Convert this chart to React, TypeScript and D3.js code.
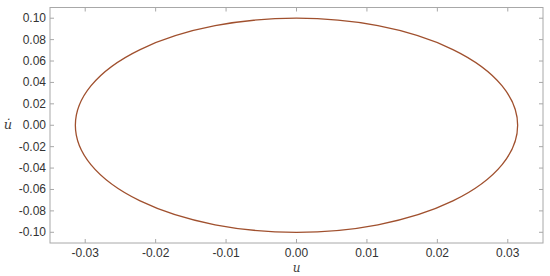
import { useEffect, useRef } from "react";
import * as d3 from "d3";

// phase portrait: u vs u-dot (closed orbit)
const uAmplitude = 0.0314;
const vAmplitude = 0.1;
const uCenter = 0.0;
const vCenter = 0.0;

const xTicks = [-0.03, -0.02, -0.01, 0.0, 0.01, 0.02, 0.03];
const yTicks = [0.1, 0.08, 0.06, 0.04, 0.02, 0.0, -0.02, -0.04, -0.06, -0.08, -0.1];
const xDomain = [-0.035, 0.035];
const yDomain = [-0.11, 0.11];

export default function App() {
  const svgRef = useRef<SVGSVGElement>(null);
  const width = 550;
  const height = 276;
  const margin = { top: 7.5, right: 7, bottom: 33, left: 50 };

  useEffect(() => {
    const svg = d3.select(svgRef.current);
    svg.selectAll("*").remove();

    const x = d3.scaleLinear().domain(xDomain).range([margin.left, width - margin.right]);
    const y = d3.scaleLinear().domain(yDomain).range([height - margin.bottom, margin.top]);

    const g = svg.append("g");
    const axisColor = "#a8a8a8";
    const font = "'Liberation Sans', Arial, sans-serif";
    const fmt = (t: number) => d3.format(".2f")(t).replace("\u2212", "-");

    // box
    g.append("rect")
      .attr("x", x(xDomain[0]))
      .attr("y", y(yDomain[1]))
      .attr("width", x(xDomain[1]) - x(xDomain[0]))
      .attr("height", y(yDomain[0]) - y(yDomain[1]))
      .attr("fill", "none")
      .attr("stroke", axisColor)
      .attr("stroke-width", 1);

    const tl = 4;
    // x ticks (bottom + top, inward)
    xTicks.forEach((t) => {
      const px = x(t);
      g.append("line").attr("x1", px).attr("x2", px)
        .attr("y1", y(yDomain[0])).attr("y2", y(yDomain[0]) - tl)
        .attr("stroke", axisColor);
      g.append("line").attr("x1", px).attr("x2", px)
        .attr("y1", y(yDomain[1])).attr("y2", y(yDomain[1]) + tl)
        .attr("stroke", axisColor);
      g.append("text")
        .attr("x", px)
        .attr("y", y(yDomain[0]) + 14)
        .attr("text-anchor", "middle")
        .attr("font-family", font)
        .attr("font-size", 12)
        .attr("fill", "#333")
        .text(fmt(t));
    });

    yTicks.forEach((t) => {
      const py = y(t);
      g.append("line").attr("x1", x(xDomain[0])).attr("x2", x(xDomain[0]) + tl)
        .attr("y1", py).attr("y2", py)
        .attr("stroke", axisColor);
      g.append("line").attr("x1", x(xDomain[1])).attr("x2", x(xDomain[1]) - tl)
        .attr("y1", py).attr("y2", py)
        .attr("stroke", axisColor);
      g.append("text")
        .attr("x", x(xDomain[0]) - 4)
        .attr("y", py + 4)
        .attr("text-anchor", "end")
        .attr("font-family", font)
        .attr("font-size", 12)
        .attr("fill", "#333")
        .text(fmt(t));
    });

    // orbit
    g.append("ellipse")
      .attr("cx", x(uCenter))
      .attr("cy", y(vCenter))
      .attr("rx", x(uCenter + uAmplitude) - x(uCenter))
      .attr("ry", y(vCenter) - y(vCenter + vAmplitude))
      .attr("fill", "none")
      .attr("stroke", "#a0502e")
      .attr("stroke-width", 1.3);

    // axis labels
    g.append("text")
      .attr("x", x(0))
      .attr("y", height - 4)
      .attr("text-anchor", "middle")
      .attr("font-family", "'DejaVu Serif', 'Liberation Serif', serif")
      .attr("font-style", "italic")
      .attr("font-size", 12)
      .attr("fill", "#404040")
      .text("u");

    g.append("text")
      .attr("x", 8)
      .attr("y", y(0) + 4)
      .attr("text-anchor", "middle")
      .attr("font-family", "'DejaVu Serif', 'Liberation Serif', serif")
      .attr("font-style", "italic")
      .attr("font-size", 13)
      .attr("fill", "#404040")
      .text("u\u0307");
  }, []);

  return (
    <svg
      ref={svgRef}
      width={width}
      height={height}
      style={{ position: "absolute", left: 0, top: 0, background: "#fff" }}
    />
  );
}
